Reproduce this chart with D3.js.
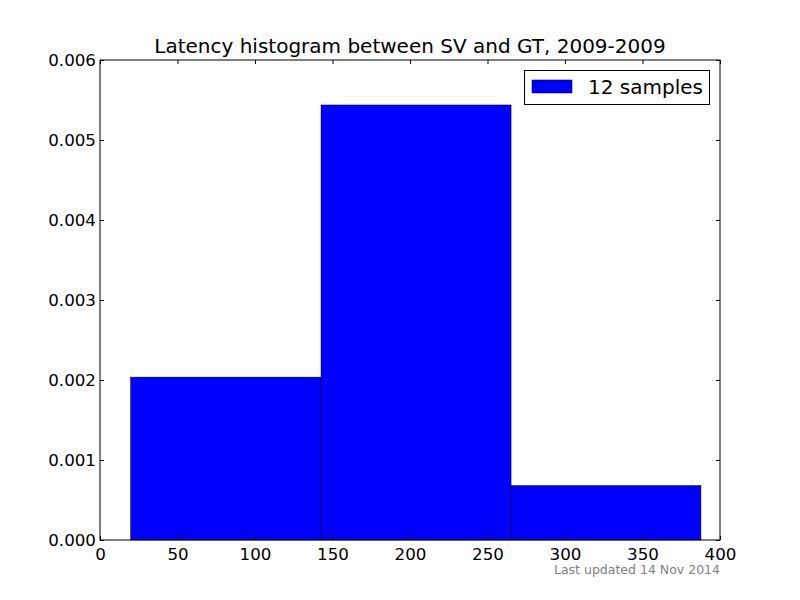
<!DOCTYPE html>
<html><head><meta charset="utf-8">
<script src="https://cdn.jsdelivr.net/npm/d3@7"></script>
<style>body{margin:0;background:#fff}svg{display:block;font-family:"DejaVu Sans",sans-serif}</style>
</head><body>
<script>
const binEdges = [19.8, 142.6, 265.2, 387.7];
const binCounts = [3, 8, 1];
const totalSamples = 12;
const xTicks = [0, 50, 100, 150, 200, 250, 300, 350, 400];
const yTicks = [0, 0.001, 0.002, 0.003, 0.004, 0.005, 0.006];
const titleText = "Latency histogram between SV and GT, 2009-2009";
const legendLabel = "12 samples";
const footerText = "Last updated 14 Nov 2014";

const W = 800, H = 600;
const m = {l: 100, r: 80, t: 60, b: 60};
const svg = d3.select("body").append("svg").attr("width", W).attr("height", H);
const x = d3.scaleLinear().domain([0, 400]).range([m.l, W - m.r]);
const y = d3.scaleLinear().domain([0, 0.006]).range([H - m.b, m.t]);

const bins = binCounts.map((c, i) => {
  const w = binEdges[i + 1] - binEdges[i];
  return {x0: binEdges[i], x1: binEdges[i + 1], d: c / (totalSamples * w)};
});

svg.append("g").selectAll("rect").data(bins).join("rect")
  .attr("x", d => x(d.x0)).attr("width", d => x(d.x1) - x(d.x0))
  .attr("y", d => y(d.d)).attr("height", d => y(0) - y(d.d))
  .attr("fill", "#0000ff").attr("stroke", "#000").attr("stroke-width", 0.5);

const tk = 4;
function styleAxis(g){ g.select(".domain").remove(); g.selectAll("line").attr("stroke","#000"); g.selectAll("text").attr("fill","#000").style("font-size","16.7px").style("font-family","DejaVu Sans"); }
// bottom
svg.append("g").attr("transform", `translate(0,${H - m.b})`)
  .call(d3.axisBottom(x).tickValues(xTicks).tickSizeInner(-tk).tickSizeOuter(0).tickPadding(8).tickFormat(d3.format("d")))
  .call(styleAxis);
// top
svg.append("g").attr("transform", `translate(0,${m.t})`)
  .call(d3.axisTop(x).tickValues(xTicks).tickSizeInner(-tk).tickSizeOuter(0).tickFormat(""))
  .call(styleAxis);
// left
svg.append("g").attr("transform", `translate(${m.l},0)`)
  .call(d3.axisLeft(y).tickValues(yTicks).tickSizeInner(-tk).tickSizeOuter(0).tickPadding(4).tickFormat(d3.format(".3f")))
  .call(styleAxis);
// right
svg.append("g").attr("transform", `translate(${W - m.r},0)`)
  .call(d3.axisRight(y).tickValues(yTicks).tickSizeInner(-tk).tickSizeOuter(0).tickFormat(""))
  .call(styleAxis);

svg.append("rect").attr("x", m.l).attr("y", m.t).attr("width", W - m.l - m.r).attr("height", H - m.t - m.b)
  .attr("fill", "none").attr("stroke", "#000").attr("stroke-width", 1);

svg.append("text").attr("x", (m.l + W - m.r) / 2).attr("y", 53).attr("text-anchor", "middle")
  .style("font-size", "20px").attr("fill", "#000").text(titleText);

// legend
const lg = svg.append("g");
lg.append("rect").attr("x", 524.5).attr("y", 70.5).attr("width", 185).attr("height", 34).attr("fill", "#fff").attr("stroke", "#000");
lg.append("rect").attr("x", 532).attr("y", 80).attr("width", 40).attr("height", 13).attr("fill", "#0000ff").attr("stroke", "#000").attr("stroke-width", 0.5);
lg.append("text").attr("x", 588).attr("y", 94).style("font-size", "20px").attr("fill", "#000").text(legendLabel);

svg.append("text").attr("x", 720).attr("y", 574).attr("text-anchor", "end")
  .style("font-size", "12.5px").attr("fill", "#808080").text(footerText);
</script>
</body></html>
